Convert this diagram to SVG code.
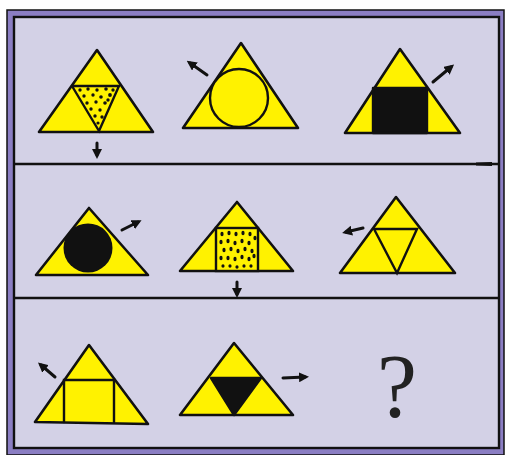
<svg xmlns="http://www.w3.org/2000/svg" width="506" height="455" viewBox="0 0 506 455">
<style>
.shape{fill:#fff200;stroke:#111;stroke-width:2.6;stroke-linejoin:round}
.ln{fill:none;stroke:#111;stroke-width:2.4;stroke-linecap:round}
.blk{fill:#111;stroke:#111;stroke-width:2.4;stroke-linejoin:round}
.arr{fill:none;stroke:#111;stroke-width:3;stroke-linecap:round;marker-end:url(#ah)}
.dot{fill:#111}
.div{stroke:#111;stroke-width:2.4}
</style>
<defs>
<marker id="ah" viewBox="0 0 10 10" refX="6" refY="5" markerWidth="10" markerHeight="10" markerUnits="userSpaceOnUse" orient="auto">
<path d="M0,0 L10,5 L0,10 z" fill="#111"/>
</marker>
</defs>
<rect x="0" y="0" width="506" height="455" fill="#ffffff"/>
<g id="frame">
<rect x="7" y="10" width="497" height="445" fill="#8b7ec3" stroke="#111" stroke-width="1.5"/>
<rect x="14" y="17" width="485" height="431" fill="#d3d1e6" stroke="#111" stroke-width="2.4"/>
<line class="div" x1="14" y1="164" x2="499" y2="164"/>
<line class="div" x1="14" y1="298" x2="499" y2="298"/>
<path d="M476,162.5 L492,162 L492,166 L476,165.5 z" fill="#111"/>
</g>
<g id="fig1">
<polygon class="shape" points="97,50 153,132 39,132"/>
<polyline class="ln" points="72,86 119,86 99,131 72,86"/>
<g class="dot">
<circle cx="80" cy="90" r="1.7"/><circle cx="88" cy="89" r="1.7"/><circle cx="97" cy="90" r="1.7"/><circle cx="106" cy="89" r="1.8"/><circle cx="113" cy="90" r="1.7"/><circle cx="84" cy="96" r="1.7"/><circle cx="93" cy="95" r="1.7"/><circle cx="101" cy="97" r="1.8"/><circle cx="110" cy="95" r="1.9"/><circle cx="87" cy="103" r="1.7"/><circle cx="96" cy="102" r="1.7"/><circle cx="105" cy="103" r="1.8"/><circle cx="91" cy="109" r="1.7"/><circle cx="100" cy="110" r="1.7"/><circle cx="95" cy="116" r="1.7"/><circle cx="102" cy="117" r="1.7"/><circle cx="98" cy="123" r="1.6"/><circle cx="108" cy="100" r="1.7"/>
</g>
</g>
<g id="fig2">
<polygon class="shape" points="241,43 298,128 183,128"/>
<circle cx="239" cy="98" r="29" fill="#fff200" stroke="#111" stroke-width="2.4"/>
</g>
<g id="fig3">
<polygon class="shape" points="400,49 460,133 345,133"/>
<rect class="blk" x="373" y="88" width="54" height="45"/>
</g>
<g id="fig4">
<polygon class="shape" points="89,208 148,275 36,275"/>
<circle cx="88" cy="248" r="24.5" fill="#111"/>
</g>
<g id="fig5">
<polygon class="shape" points="237,202 293,271 180,271"/>
<rect x="216" y="228" width="42" height="43" fill="#fff200" stroke="#111" stroke-width="2.4"/>
<g class="dot">
<ellipse cx="222" cy="234" rx="1.6" ry="2.2"/><ellipse cx="229" cy="233" rx="1.6" ry="2.2"/><ellipse cx="236" cy="234" rx="1.6" ry="2.2"/><ellipse cx="243" cy="233" rx="1.6" ry="2.2"/><ellipse cx="250" cy="234" rx="1.6" ry="2.2"/><ellipse cx="255" cy="238" rx="1.6" ry="2.2"/>
<ellipse cx="221" cy="242" rx="1.6" ry="2.2"/><ellipse cx="228" cy="241" rx="1.6" ry="2.2"/><ellipse cx="235" cy="243" rx="1.6" ry="2.2"/><ellipse cx="242" cy="241" rx="1.6" ry="2.2"/><ellipse cx="249" cy="243" rx="1.6" ry="2.2"/>
<ellipse cx="224" cy="250" rx="1.6" ry="2.2"/><ellipse cx="231" cy="249" rx="1.6" ry="2.2"/><ellipse cx="238" cy="251" rx="1.6" ry="2.2"/><ellipse cx="245" cy="249" rx="1.6" ry="2.2"/><ellipse cx="252" cy="251" rx="1.6" ry="2.2"/>
<ellipse cx="221" cy="258" rx="1.6" ry="2.2"/><ellipse cx="228" cy="258" rx="1.6" ry="2.2"/><ellipse cx="235" cy="259" rx="1.6" ry="2.2"/><ellipse cx="242" cy="257" rx="1.6" ry="2.2"/><ellipse cx="249" cy="259" rx="1.6" ry="2.2"/><ellipse cx="254" cy="256" rx="1.6" ry="2.2"/>
<ellipse cx="223" cy="266" rx="1.6" ry="1.8"/><ellipse cx="230" cy="266" rx="1.6" ry="1.8"/><ellipse cx="237" cy="267" rx="1.6" ry="1.8"/><ellipse cx="244" cy="266" rx="1.6" ry="1.8"/><ellipse cx="251" cy="266" rx="1.6" ry="1.8"/>
</g>
</g>
<g id="fig6">
<polygon class="shape" points="396,197 455,273 340,273"/>
<polyline class="ln" points="374,229 417,229 397,273 374,229"/>
</g>
<g id="fig7">
<polygon class="shape" points="89,345 148,424 35,422"/>
<polyline class="ln" points="64,422 64,380 114,380 114,422"/>
</g>
<g id="fig8">
<polygon class="shape" points="234,343 293,415 180,415"/>
<polygon class="blk" points="211,378 261,378 234,415"/>
</g>
<g id="question">
<text x="397" y="417" font-family="Liberation Serif, serif" font-size="90" text-anchor="middle" fill="#222">?</text>
</g>
<g id="connectors">
<line class="arr" x1="97" y1="143" x2="97" y2="155"/>
<line class="arr" x1="207" y1="75" x2="190" y2="63"/>
<line class="arr" x1="433" y1="82" x2="451" y2="67"/>
<line class="arr" x1="122" y1="230" x2="138" y2="222"/>
<line class="arr" x1="237" y1="282" x2="237" y2="294"/>
<line class="arr" x1="363" y1="228" x2="346" y2="232"/>
<line class="arr" x1="55" y1="377" x2="41" y2="365"/>
<line class="arr" x1="283" y1="378" x2="305" y2="377"/>
</g>
</svg>
